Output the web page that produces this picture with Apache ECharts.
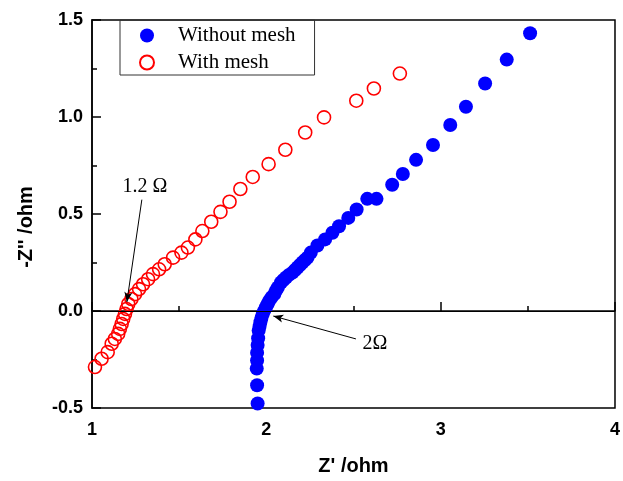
<!DOCTYPE html>
<html>
<head>
<meta charset="utf-8">
<script src="https://cdn.jsdelivr.net/npm/echarts@6/dist/echarts.min.js"></script>
<style>
  html, body { margin: 0; padding: 0; background: #fff; }
  #chart { width: 623px; height: 481px; }
</style>
</head>
<body>
<div id="chart"></div>
<script>
// Nyquist data: [Z', -Z'']
const withoutMesh = [
  [1.950, -0.477], [1.947, -0.383], [1.945, -0.297], [1.947, -0.255], [1.947, -0.215],
  [1.950, -0.175], [1.953, -0.140], [1.956, -0.101], [1.961, -0.080], [1.966, -0.058],
  [1.972, -0.036], [1.979, -0.015], [1.988, 0.002], [1.998, 0.019], [2.007, 0.036],
  [2.017, 0.053], [2.030, 0.070], [2.046, 0.087], [2.055, 0.104], [2.066, 0.121],
  [2.084, 0.147], [2.098, 0.160], [2.113, 0.173], [2.130, 0.186], [2.150, 0.198],
  [2.165, 0.211], [2.179, 0.224], [2.193, 0.237], [2.207, 0.250], [2.222, 0.263],
  [2.236, 0.275], [2.255, 0.301], [2.293, 0.338], [2.337, 0.369], [2.379, 0.403],
  [2.417, 0.437], [2.470, 0.480], [2.518, 0.523], [2.579, 0.578], [2.632, 0.578],
  [2.722, 0.651], [2.783, 0.706], [2.859, 0.779], [2.956, 0.856], [3.055, 0.959],
  [3.145, 1.053], [3.255, 1.173], [3.379, 1.296], [3.513, 1.432]
];
const withMesh = [
  [1.017, -0.289], [1.055, -0.246], [1.090, -0.212], [1.113, -0.169], [1.131, -0.144],
  [1.150, -0.118], [1.160, -0.092], [1.170, -0.067], [1.179, -0.041], [1.189, -0.015],
  [1.198, 0.010], [1.208, 0.036], [1.226, 0.062], [1.247, 0.087], [1.270, 0.113],
  [1.293, 0.138], [1.322, 0.164], [1.350, 0.190], [1.385, 0.215], [1.417, 0.241],
  [1.465, 0.275], [1.513, 0.301], [1.550, 0.327], [1.593, 0.369], [1.633, 0.412],
  [1.684, 0.460], [1.737, 0.511], [1.789, 0.563], [1.851, 0.629], [1.922, 0.691],
  [2.013, 0.757], [2.109, 0.831], [2.223, 0.920], [2.331, 0.998], [2.516, 1.084],
  [2.617, 1.147], [2.766, 1.224]
];
const seriesNames = ['Without mesh', 'With mesh'];
// annotations: label position, arrow start, arrow tip
const noteLabels = ['1.2 Ω', '2Ω'];
const notePos = [[1.303, 0.641], [2.623, -0.169]];
const arrowFrom = [[1.286, 0.574], [2.514, -0.144]];
const arrowTo = [[1.200, 0.046], [2.040, -0.026]];

const sans = 'Liberation Sans, Arial, sans-serif';
const serif = 'Liberation Serif, Times New Roman, serif';

const chart = echarts.init(document.getElementById('chart'));

const option = {
  animation: false,
  grid: {
    left: 92, right: 5, top: 20, bottom: 71,
    show: true, borderColor: '#000', borderWidth: 1.5, backgroundColor: 'transparent'
  },
  legend: {
    data: seriesNames,
    orient: 'vertical',
    left: 120, top: 20,
    itemWidth: 52, itemHeight: 14, itemGap: 6,
    padding: [5, 19, 2, 19],
    borderColor: '#333', borderWidth: 1,
    textStyle: { fontFamily: serif, fontSize: 21, color: '#000' }
  },
  xAxis: {
    type: 'value', min: 1, max: 4, interval: 1,
    name: "Z' /ohm", nameLocation: 'middle', nameGap: 48,
    nameTextStyle: { fontFamily: sans, fontSize: 20, fontWeight: 'bold', color: '#000' },
    axisLine: { show: true, lineStyle: { color: '#000', width: 1.5 } },
    axisTick: { show: true, inside: true, length: 9, lineStyle: { color: '#000', width: 1.5 } },
    minorTick: { show: true, splitNumber: 2, length: 5, lineStyle: { color: '#000', width: 1.5 } },
    splitLine: { show: false },
    axisLabel: { margin: 13, fontFamily: sans, fontSize: 18, fontWeight: 'bold', color: '#000' }
  },
  yAxis: {
    type: 'value', min: -0.5, max: 1.5, interval: 0.5,
    name: "-Z'' /ohm", nameLocation: 'middle', nameGap: 56,
    nameTextStyle: {
      fontFamily: sans, fontSize: 20, fontWeight: 'bold', color: '#000',
      padding: [0, 26, 0, 0]
    },
    axisLine: { show: true, lineStyle: { color: '#000', width: 1.5 } },
    axisTick: { show: true, inside: true, length: 9, lineStyle: { color: '#000', width: 1.5 } },
    minorTick: { show: true, splitNumber: 2, length: 5, lineStyle: { color: '#000', width: 1.5 } },
    splitLine: { show: false },
    axisLabel: {
      margin: 9, fontFamily: sans, fontSize: 18, fontWeight: 'bold', color: '#000',
      formatter: v => v.toFixed(1)
    }
  },
  series: [
    {
      name: seriesNames[0],
      type: 'scatter',
      data: withoutMesh,
      symbol: 'circle', symbolSize: 14,
      itemStyle: { color: '#0000ff', opacity: 1 },
      z: 3
    },
    {
      name: seriesNames[1],
      type: 'scatter',
      data: withMesh,
      symbol: 'circle', symbolSize: 13,
      itemStyle: { color: 'transparent', borderColor: '#ff0000', borderWidth: 1.6, opacity: 1 },
      z: 4,
      // zero line and arrows
      markLine: {
        silent: true,
        animation: false,
        label: { show: false },
        data: [
          [{ coord: [1, 0], symbol: 'none' }, { coord: [4, 0], symbol: 'none' }],
          ...arrowFrom.map((p, i) => [
            { coord: p, symbol: 'none' },
            { coord: arrowTo[i], symbol: 'arrow', symbolSize: [6, 10] }
          ])
        ],
        lineStyle: { color: '#000', width: 1, type: 'solid' }
      },
      markPoint: {
        silent: true,
        symbol: 'circle', symbolSize: 0,
        label: {
          show: true, position: 'inside',
          fontFamily: serif, fontSize: 20, color: '#000',
          formatter: p => p.name
        },
        data: noteLabels.map((t, i) => ({ name: t, coord: notePos[i] }))
      }
    }
  ]
};

chart.setOption(option);
</script>
</body>
</html>
